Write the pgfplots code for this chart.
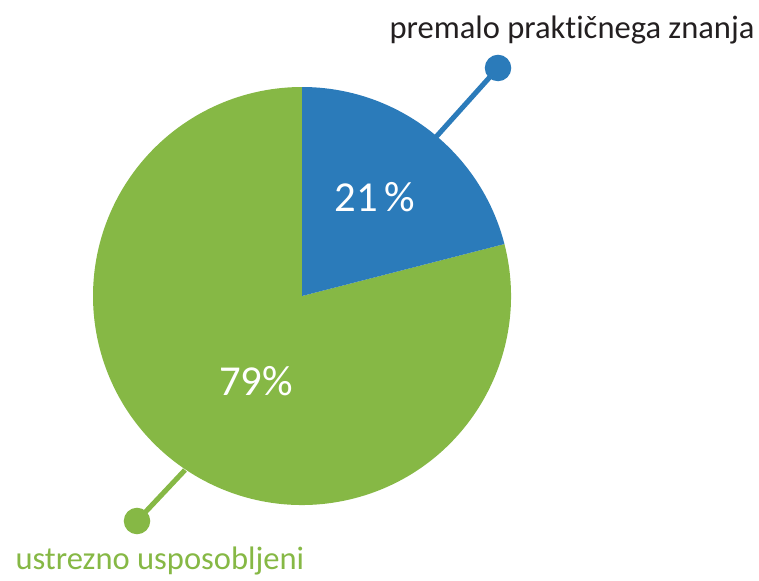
\documentclass[border=0pt]{standalone}
\usepackage{fontspec}
\setmainfont[Ligatures=NoCommon]{Carlito}
\usepackage{pgfplots}
\usepackage{pgfplotstable}
\pgfplotsset{compat=1.18}
\definecolor{pieblue}{HTML}{2B7BBA}
\definecolor{piegreen}{HTML}{86B845}
\definecolor{txtdark}{HTML}{231F20}

% shares in percent
\pgfplotstableread{
label share
praktic 21
ustrezno 79
}\sharetable

\begin{document}
\begin{tikzpicture}
\pgfplotstablegetelem{0}{share}\of\sharetable \let\sharea\pgfplotsretval
\pgfmathsetmacro{\endA}{90-3.6*\sharea}
\begin{axis}[
    name=ax,
    scale only axis,
    width=10cm, height=7.655cm,
    xmin=0, xmax=759, ymin=0, ymax=581,
    hide axis,
    clip=false,
]
% pie slices, centre (302,285), radius 209 units = 2.7536cm
\fill[piegreen] (axis cs:302,285) -- ++(\endA:2.7536cm)
    arc[start angle=\endA, end angle=-270, radius=2.7536cm] -- cycle;
\fill[pieblue] (axis cs:302,285) -- ++(90:2.7536cm)
    arc[start angle=90, end angle=\endA, radius=2.7536cm] -- cycle;

% leader lines with end dots
\addplot[pieblue, line width=1.9pt, mark=*, mark size=4pt, mark indices={2},
    mark options={fill=pieblue, draw=pieblue}] coordinates {(436,444) (498,513)};
\addplot[piegreen, line width=1.9pt, mark=*, mark size=4pt, mark indices={2},
    mark options={fill=piegreen, draw=piegreen}] coordinates {(185,111) (137,60)};

\node[white, font=\fontsize{16}{19}\selectfont] at (axis cs:375,384) {21\,\%};
\node[white, font=\fontsize{16}{19}\selectfont] at (axis cs:256,200) {79\%};
\node[txtdark, anchor=east, inner sep=0pt, font=\fontsize{12.2}{15}\selectfont] at (axis cs:755,551) {premalo praktičnega znanja};
\node[piegreen, anchor=west, inner sep=0pt, font=\fontsize{12.2}{15}\selectfont] at (axis cs:15,20) {ustrezno usposobljeni};
\end{axis}
\pgfresetboundingbox
\path[use as bounding box] (ax.south west) rectangle (ax.north east);
\end{tikzpicture}
\end{document}
